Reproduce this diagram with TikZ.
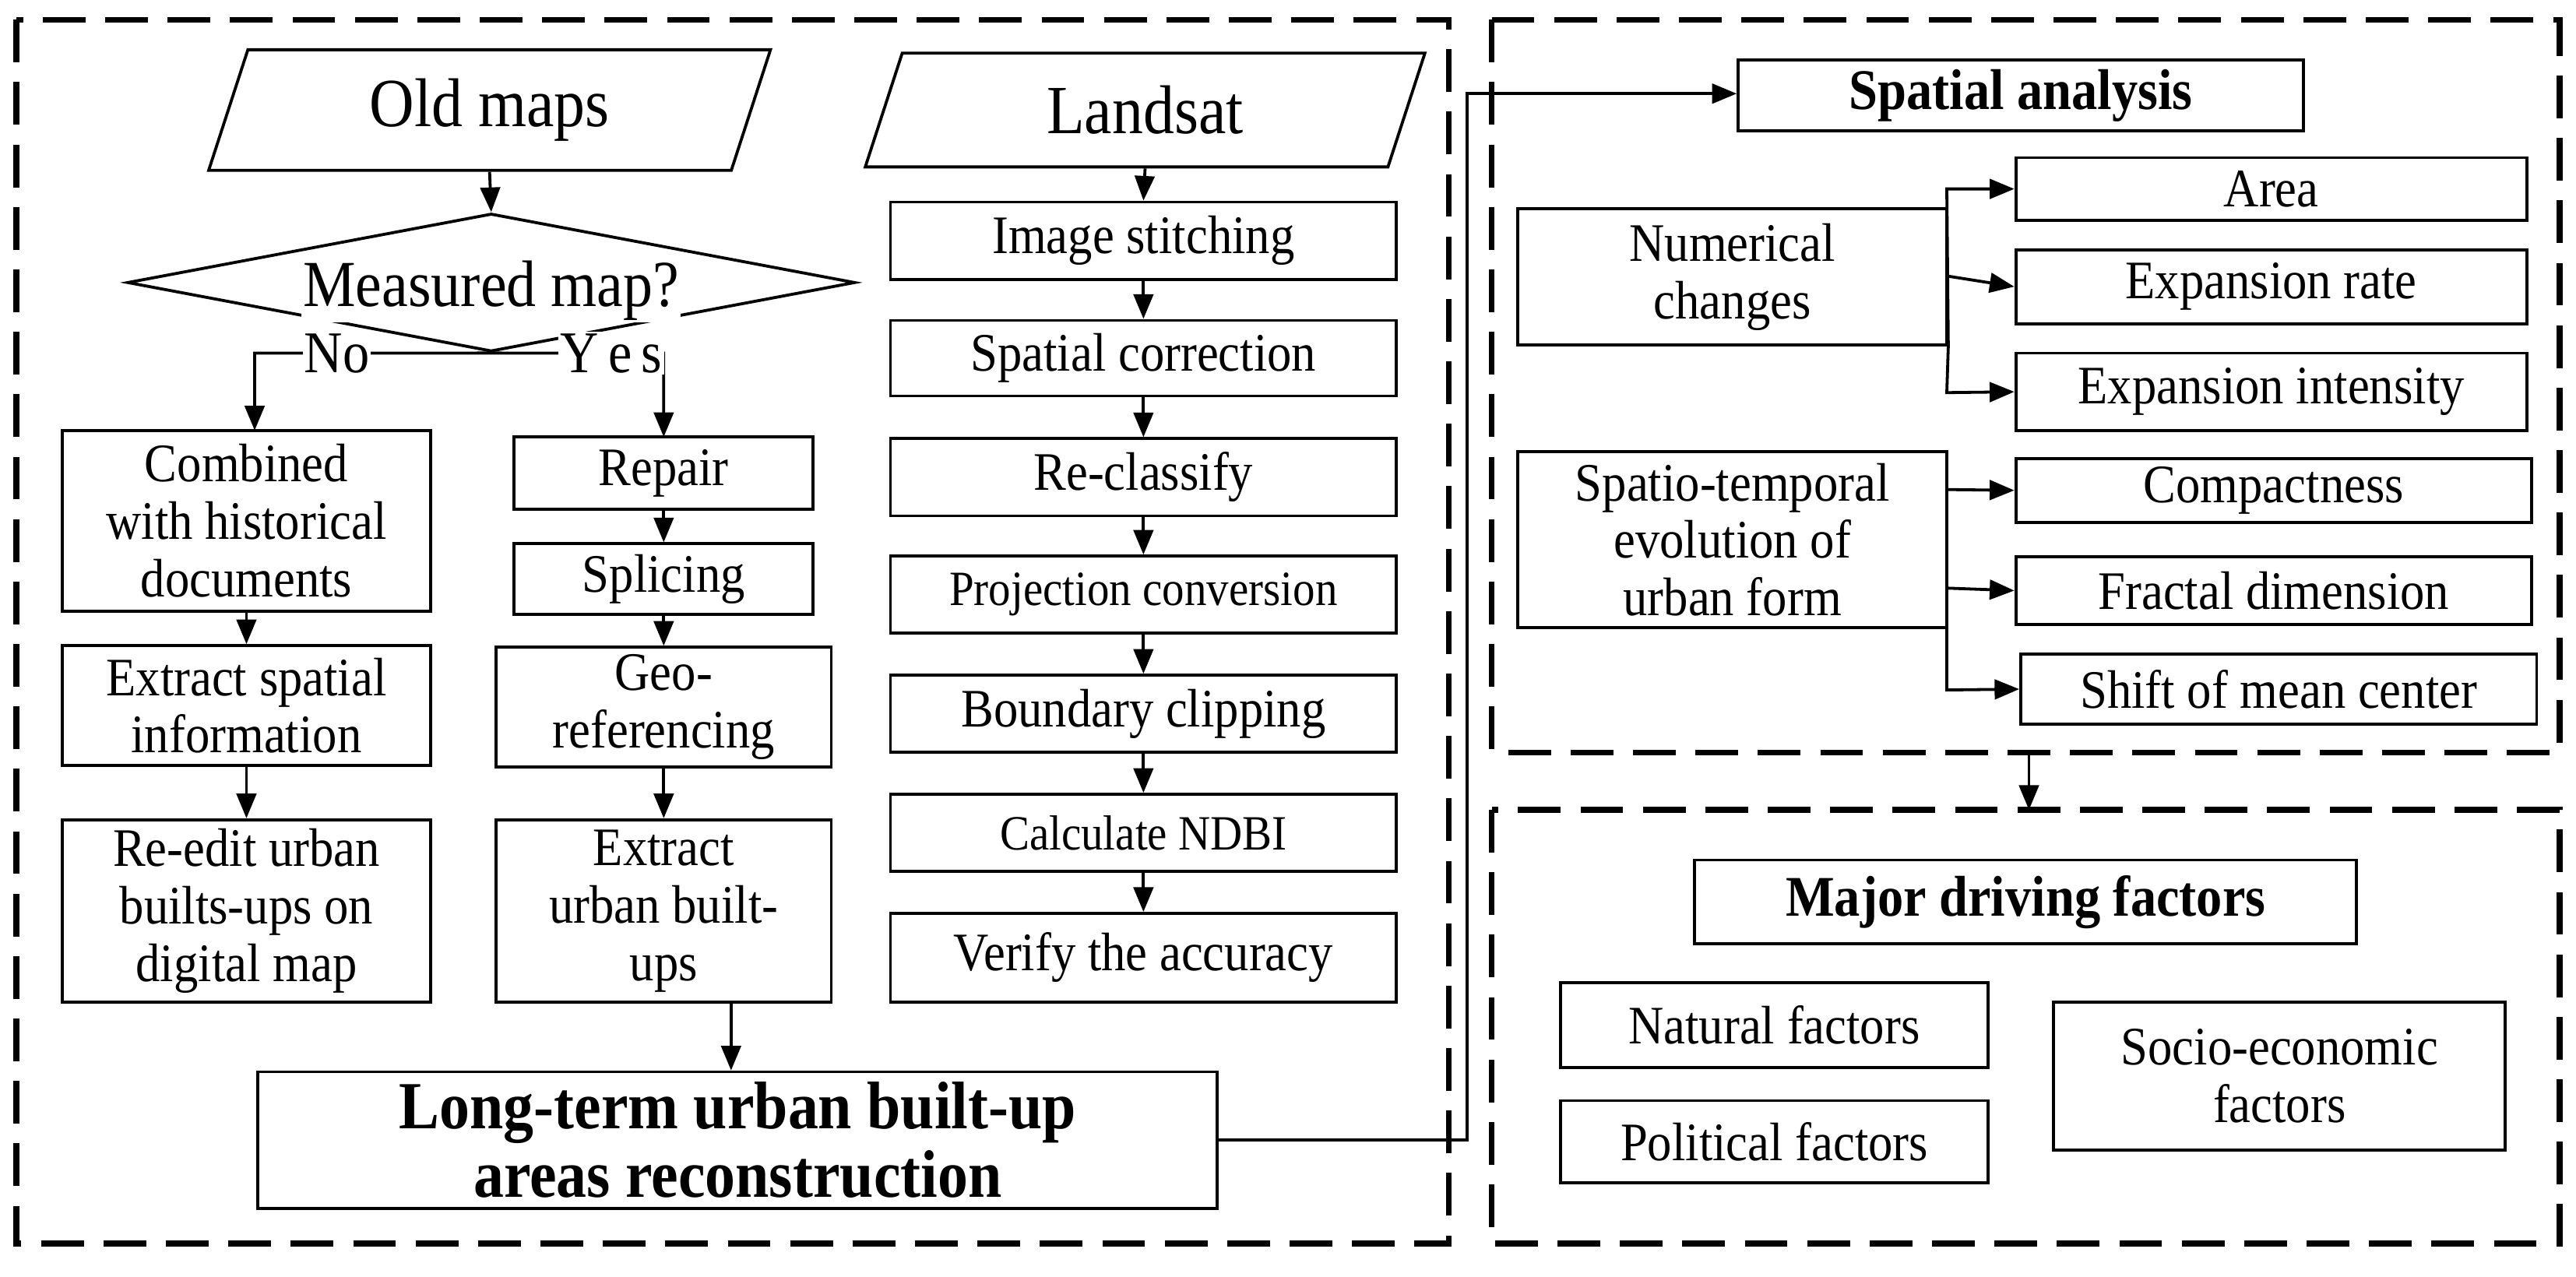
\documentclass[tikz,border=0pt]{standalone}
\usepackage{fontspec}
\setmainfont{Liberation Serif}[FakeStretch=0.9]
\usetikzlibrary{arrows.meta,shapes.geometric}
\begin{document}
\begin{tikzpicture}[x=1pt,y=-1pt,line width=1.8pt,
  box/.style={draw,rectangle,align=center,inner sep=0pt,font=\fontsize{33}{35}\selectfont},
  arr/.style={-{Triangle[length=15pt,width=12pt]}},
  dsh/.style={line width=3.5pt,dash pattern=on 26pt off 12pt},
  para/.style={draw,trapezium,trapezium left angle=72,trapezium right angle=108,minimum width=342,minimum height=62,inner ysep=0pt,font=\fontsize{42}{46}\selectfont}]
\useasboundingbox (0,0) rectangle (1568,777);
\newcommand{\bx}[4]{\node[box,minimum width=#3-#1,minimum height=#4-#2] at ({(#1+#3)/2},{(#2+#4)/2})}
% dashed frames
\draw[dsh] (10,12) rectangle (882,757);
\draw[dsh] (908,12) rectangle (1558,458);
\draw[dsh] (908,493) rectangle (1558,757);
% old maps
\node[para] (om) at (298,67) {Old maps};
\node[para] (ls) at (697,67) {Landsat};
\node[draw,diamond,aspect=5.3,minimum width=443,minimum height=84,inner sep=0pt] (dm) at (299,172) {};
\node[fill=white,inner sep=1pt,font=\fontsize{40}{44}\selectfont] (mq) at (299,177) {Measured map?};
\draw[arr] (om.south) -- (dm.north);
\coordinate (lb) at (155,215); \coordinate (rb) at (404,215);
\draw[arr] (dm.south) -- (lb) -- (155,262);
\draw[arr] (dm.south) -- (rb) -- (404,266);
\node[fill=white,inner sep=1pt,font=\fontsize{36}{40}\selectfont] (no) at (205,215) {No};
\node[fill=white,inner sep=1pt,font=\fontsize{36}{40}\selectfont] (yes) at (372,215) {Y\,e\,s};
% left column
\bx{38}{262}{262}{372} (c1) {Combined\\with historical\\documents};
\bx{38}{393}{262}{466} (c2) {Extract spatial\\information};
\bx{38}{499}{262}{610} (c3) {Re-edit urban\\builts-ups on\\digital map};
\draw[arr] (c1.south) -- (c2.north);
\draw[arr] (c2.south) -- (c3.north);
\bx{313}{266}{495}{310} (m1) {Repair};
\bx{313}{331}{495}{374} (m2) {Splicing};
\bx{302}{394}{506}{467} (m3) {Geo-\\referencing};
\bx{302}{499}{506}{610} (m4) {Extract\\urban built-\\ups};
\draw[arr] (m1.south) -- (m2.north);
\draw[arr] (m2.south) -- (m3.north);
\draw[arr] (m3.south) -- (m4.north);
% landsat column
\bx{542}{123}{850}{170} (l1) {Image stitching};
\bx{542}{195}{850}{241} (l2) {Spatial correction};
\bx{542}{267}{850}{314} (l3) {Re-classify};
\node[box,minimum width=308,minimum height=47,font=\fontsize{30}{34}\selectfont] (l4) at (696,362) {Projection conversion};
\bx{542}{411}{850}{458} (l5) {Boundary clipping};
\node[box,minimum width=308,minimum height=47,font=\fontsize{30}{34}\selectfont] (l6) at (696,507) {Calculate NDBI};
\bx{542}{556}{850}{610} (l7) {Verify the accuracy};
\draw[arr] (ls.south) -- (l1.north);
\foreach \a/\b in {l1/l2,l2/l3,l3/l4,l4/l5,l5/l6,l6/l7} \draw[arr] (\a.south) -- (\b.north);
% long-term
\node[box,minimum width=584,minimum height=83,font=\bfseries\fontsize{41}{42}\selectfont] (lt) at (449,694) {Long-term urban built-up\\areas reconstruction};
\coordinate (jn) at (445,610);
\draw[arr] (jn) -- (lt.north -| jn);
% spatial analysis
\node[box,minimum width=344,minimum height=43,font=\bfseries\fontsize{35}{38}\selectfont] (sa) at (1230,58) {Spatial analysis};
\coordinate (k1) at (893,694); \coordinate (k2) at (893,57);
\draw[arr] (lt.east) -- (k1) -- (k2) -- (sa.west |- k2);
\bx{924}{127}{1185}{210} (nc) {Numerical\\changes};
\bx{1227}{96}{1538}{134} (a1) {Area};
\bx{1227}{152}{1538}{197} (a2) {Expansion rate};
\bx{1227}{215}{1538}{262} (a3) {Expansion intensity};
\draw[arr] (nc.south east) -- (1185,115) -- (a1.west);
\draw[arr] (nc.south east) -- (1185,239) -- (a3.west);
\draw[arr] (1185,168) -- (a2.west);
\bx{924}{275}{1185}{382} (st) {Spatio-temporal\\evolution of\\urban form};
\bx{1227}{279}{1541}{318} (b1) {Compactness};
\bx{1227}{339}{1541}{380} (b2) {Fractal dimension};
\bx{1230}{398}{1544}{441} (b3) {Shift of mean center};
\draw[arr] (1185,275) -- (1185,420) -- (b3.west);
\draw[arr] (1185,298) -- (b1.west);
\draw[arr] (1185,358) -- (b2.west);
% driving
\coordinate (d1) at (1235,458); \coordinate (d2) at (1235,493);
\draw[arr] (d1) -- (d2);
\node[box,minimum width=403,minimum height=51,font=\bfseries\fontsize{35}{38}\selectfont] (md) at (1233,549) {Major driving factors};
\bx{950}{598}{1210}{650} (f1) {Natural factors};
\bx{950}{670}{1210}{720} (f2) {Political factors};
\bx{1250}{610}{1525}{700} (f3) {Socio-economic\\factors};
\end{tikzpicture}
\end{document}
